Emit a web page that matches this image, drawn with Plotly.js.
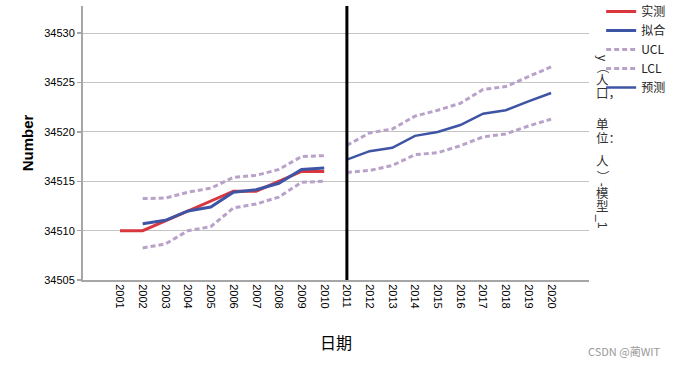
<!DOCTYPE html>
<html><head><meta charset="utf-8">
<script src="https://cdn.plot.ly/plotly-3.0.1.min.js"></script>
<style>html,body{margin:0;padding:0;background:#fff}#chart{width:678px;height:367px}</style>
</head><body><div id="chart"></div>
<script>
const years = [2001,2002,2003,2004,2005,2006,2007,2008,2009,2010,2011,2012,2013,2014,2015,2016,2017,2018,2019,2020];
const yearLabels = years.map(String);
const splitYear = 2011;
// 实测 (observed), 2001-2010
const actual = [34510,34510,34511,34512,34513,34514,34514,34515,34516,34516];
// 拟合 (fitted), 2001-2010
const fitted = [null,34510.7,34511.05,34512.0,34512.4,34513.9,34514.15,34514.8,34516.2,34516.35];
// UCL / LCL, 2001-2020
const ucl = [null,34513.25,34513.3,34513.9,34514.3,34515.4,34515.6,34516.2,34517.5,34517.6,
             34518.65,34519.9,34520.3,34521.6,34522.2,34522.9,34524.3,34524.6,34525.6,34526.6];
const lcl = [null,34508.25,34508.65,34510.0,34510.4,34512.3,34512.7,34513.4,34514.9,34515.0,
             34515.9,34516.1,34516.6,34517.7,34517.9,34518.6,34519.5,34519.8,34520.6,34521.3];
// 预测 (forecast), 2011-2020
const forecast = [34517.2,34518.05,34518.4,34519.6,34520.0,34520.7,34521.85,34522.2,34523.1,34523.95];
const yTicks = [34505,34510,34515,34520,34525,34530];
const yTickLabels = yTicks.map(String);
const sideTitle = 'y（人口，单位：人）-模型_1';
const watermark = 'CSDN @蔺WIT';

const histYears = years.filter(y => y < splitYear);
const foreYears = years.filter(y => y >= splitYear);
const hi = years.map((y,i)=>i).filter(i => years[i] < splitYear);
const fi = years.map((y,i)=>i).filter(i => years[i] >= splitYear);

const RED = '#d9363e', BLUE = '#3e54a4', PURPLE = '#b9a2ca';
const dotted = '5px,3px';

const traces = [
  {x: histYears, y: actual, name: '实测', mode: 'lines', line: {color: RED, width: 3}},
  {x: histYears, y: fitted, name: '拟合', mode: 'lines', line: {color: BLUE, width: 3}},
  {x: hi.map(i=>years[i]), y: hi.map(i=>ucl[i]), name: 'UCL', legendgroup: 'ucl', mode: 'lines', line: {color: PURPLE, width: 3, dash: dotted}},
  {x: hi.map(i=>years[i]), y: hi.map(i=>lcl[i]), name: 'LCL', legendgroup: 'lcl', mode: 'lines', line: {color: PURPLE, width: 3, dash: dotted}},
  {x: foreYears, y: forecast, name: '预测', mode: 'lines', line: {color: BLUE, width: 2.5}},
  {x: fi.map(i=>years[i]), y: fi.map(i=>ucl[i]), name: 'UCL', legendgroup: 'ucl', showlegend: false, mode: 'lines', line: {color: PURPLE, width: 3, dash: dotted}},
  {x: fi.map(i=>years[i]), y: fi.map(i=>lcl[i]), name: 'LCL', legendgroup: 'lcl', showlegend: false, mode: 'lines', line: {color: PURPLE, width: 3, dash: dotted}}
];

// plot-area geometry (pixels) used to place the vertical side title
const W = 678, H = 367, ML = 83, MR = 89, MT = 6, MB = 86.5;
const PW = W - ML - MR, PH = H - MT - MB;
const px2x = px => (px - ML) / PW;
const py2y = py => 1 - (py - MT) / PH;

const CJK_FONT = '"Noto Sans CJK SC", "Noto Sans", sans-serif';
const LAT_FONT = '"Liberation Sans", Arial, sans-serif';
// compact line box (Latin metrics) with CJK glyphs falling back to Noto Sans CJK SC
const SIDE_FONT = '"Liberation Sans", "Noto Sans CJK SC", sans-serif';

const annotations = [];
// vertical side title: CJK upright, Latin letters and brackets turned sideways,
// full-width punctuation kept beside the preceding character
{
  const EM = 13.5, FS = 12.5;
  const adv = {'y': 6.5, '-': 4.5, '_': 6.5, '1': 7, '（': 13.5, '）': 13.5};
  const punctAdv = {'，': 17, '：': 11};
  const isSideways = ch => /[\x00-\x7F]/.test(ch) || ch === '（' || ch === '）';
  const chars = Array.from(sideTitle);
  const runs = [];
  for (let i = 0; i < chars.length; i++) {
    const ch = chars[i];
    const last = runs[runs.length - 1];
    if (isSideways(ch)) {
      if (last && last.sideways) { last.text += ch; last.len += adv[ch] || 7; }
      else runs.push({text: ch, sideways: true, len: adv[ch] || 7, extra: 0});
    } else if (punctAdv[ch] !== undefined && last && !last.sideways) {
      last.text += ch; last.extra += punctAdv[ch];
    } else {
      runs.push({text: ch, sideways: false, len: EM, extra: 0});
    }
  }
  let cursor = 54;
  const colX = 602;
  for (const r of runs) {
    const cy = cursor + r.len / 2;
    const single = r.text.length === 1 || r.sideways;
    annotations.push({
      text: r.text, xref: 'paper', yref: 'paper',
      x: px2x(single ? colX : colX - EM / 2), y: py2y(cy),
      xanchor: single ? 'center' : 'left', yanchor: 'middle',
      textangle: r.sideways ? 90 : 0, showarrow: false, borderpad: 0,
      font: {family: SIDE_FONT, size: FS, color: '#333'}
    });
    cursor += r.len + r.extra;
  }
}
annotations.push({text: watermark, xref: 'paper', yref: 'paper', x: px2x(663), y: py2y(352),
  xanchor: 'right', yanchor: 'middle', showarrow: false,
  font: {family: CJK_FONT, size: 11, color: '#999'}});

const layout = {
  width: W, height: H,
  margin: {l: ML, r: MR, t: MT, b: MB, pad: 0, autoexpand: false},
  paper_bgcolor: '#fff', plot_bgcolor: '#fff',
  font: {family: LAT_FONT, color: '#000', size: 11},
  showlegend: true,
  legend: {x: 1.024, y: py2y(-3), xanchor: 'left', yanchor: 'top', bgcolor: 'rgba(0,0,0,0)',
           font: {family: CJK_FONT, size: 12, color: '#222'}, tracegroupgap: 0},
  xaxis: {
    range: [1999.37, 2021.67], tickmode: 'array', tickvals: years, ticktext: yearLabels,
    tickangle: 90, showgrid: false, zeroline: false,
    showline: true, linecolor: '#a6a6a6', linewidth: 2, ticks: '',
    tickfont: {family: LAT_FONT, size: 11, color: '#000'},
    title: {text: '日期', font: {family: CJK_FONT, size: 16, color: '#000'}, standoff: 30}
  },
  yaxis: {
    range: [34505, 34532.76], tickmode: 'array', tickvals: yTicks, ticktext: yTickLabels,
    showgrid: true, gridcolor: '#c4c4c4', gridwidth: 1, zeroline: false,
    showline: true, linecolor: '#a6a6a6', linewidth: 2,
    ticks: 'outside', ticklen: 4, tickcolor: '#a6a6a6', tickwidth: 1.5,
    tickfont: {family: LAT_FONT, size: 11, color: '#000'},
    title: {text: '<b>Number</b>', font: {family: LAT_FONT, size: 15, color: '#000'}, standoff: 7}
  },
  shapes: [
    {type: 'line', xref: 'x', yref: 'paper', x0: splitYear, x1: splitYear, y0: 0, y1: 1,
     line: {color: '#000', width: 3}}
  ],
  annotations: annotations
};

Plotly.newPlot('chart', traces, layout, {displayModeBar: false, staticPlot: true});
</script>
</body></html>
